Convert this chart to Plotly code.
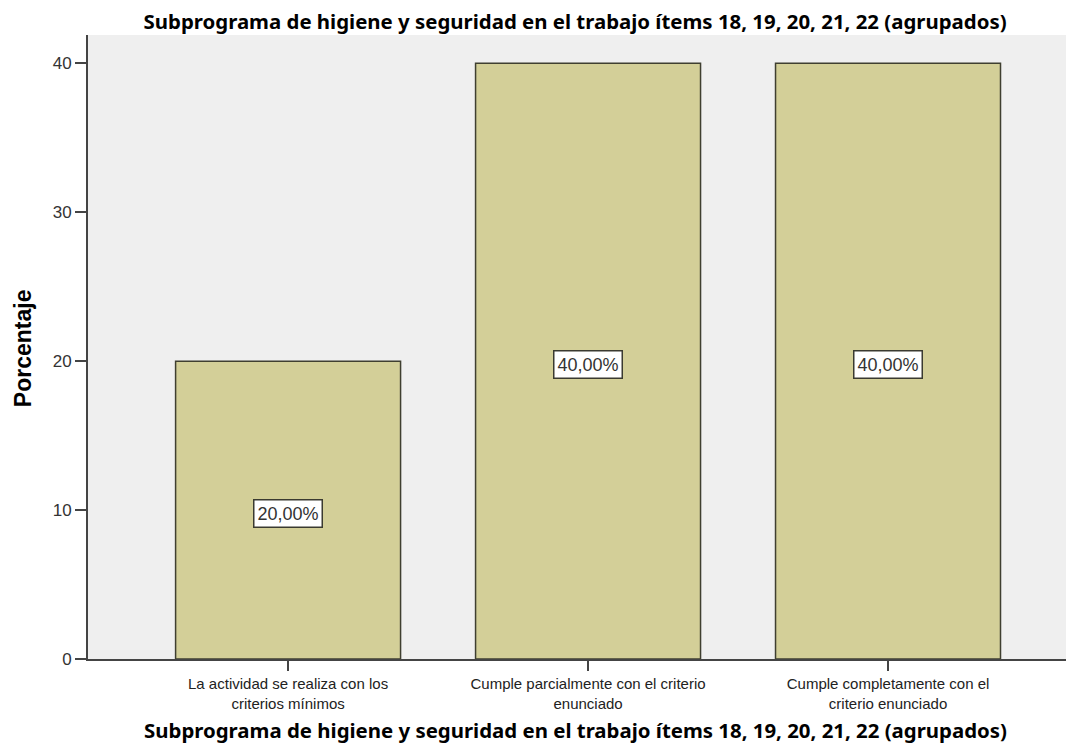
import plotly.graph_objects as go

title_text = "Subprograma de higiene y seguridad en el trabajo ítems 18, 19, 20, 21, 22 (agrupados)"
categories = [
    "La actividad se realiza con los<br>criterios mínimos",
    "Cumple parcialmente con el criterio<br>enunciado",
    "Cumple completamente con el<br>criterio enunciado",
]
percentages = [20.0, 40.0, 40.0]
y_ticks = [0, 10, 20, 30, 40]

fig = go.Figure()

fig.add_trace(
    go.Bar(
        x=list(range(len(categories))),
        y=percentages,
        width=0.75,
        marker=dict(color="#d3cf98", line=dict(color="#3f3f30", width=1.5)),
        hoverinfo="skip",
    )
)

# value labels in white boxes at the middle of each bar
for i, v in enumerate(percentages):
    fig.add_annotation(
        x=i,
        y=v / 2,
        yshift=-3,
        text=f"{v:.2f}%".replace(".", ","),
        showarrow=False,
        bgcolor="white",
        bordercolor="#3a3a30",
        borderwidth=1.5,
        borderpad=3,
        font=dict(family="Liberation Sans, Arial", size=18, color="#333"),
    )

# axis titles placed by hand (SPSS style)
fig.add_annotation(
    xref="paper", yref="paper", x=0.494, y=-0.114,
    text=f"<b>{title_text}</b>", showarrow=False,
    xanchor="center", yanchor="middle",
    font=dict(family="Noto Sans", size=20.4, color="black"),
)
fig.add_annotation(
    xref="paper", yref="paper", x=-0.066, y=0.498,
    text="<b>Porcentaje</b>", showarrow=False, textangle=-90,
    xanchor="center", yanchor="middle",
    font=dict(family="Liberation Sans, Arial", size=23, color="black"),
)

fig.update_xaxes(
    range=[-0.667, 2.62],
    tickvals=list(range(len(categories))),
    ticktext=categories,
    ticks="outside",
    ticklen=10,
    tickwidth=2,
    tickcolor="#444",
    showline=True,
    linecolor="#444",
    linewidth=2,
    showgrid=False,
    zeroline=False,
    tickfont=dict(family="Liberation Sans, Arial", size=15, color="#222"),
)

fig.update_yaxes(
    range=[0, 41.9],
    tickvals=y_ticks,
    ticks="outside",
    ticklen=11,
    tickwidth=2,
    tickcolor="#444",
    showline=True,
    linecolor="#444",
    linewidth=2,
    showgrid=False,
    zeroline=False,
    tickfont=dict(family="Liberation Sans, Arial", size=17, color="#333"),
)

fig.update_layout(
    width=1074,
    height=744,
    margin=dict(l=80, r=8, t=27, b=93),
    plot_bgcolor="#efefef",
    paper_bgcolor="white",
    showlegend=False,
    title=dict(
        text=f"<b>{title_text}</b>",
        x=0.528,
        xanchor="center",
        y=0.982,
        yanchor="middle",
        font=dict(family="Noto Sans", size=20.4, color="black"),
    ),
)

fig.write_html("out.html")
